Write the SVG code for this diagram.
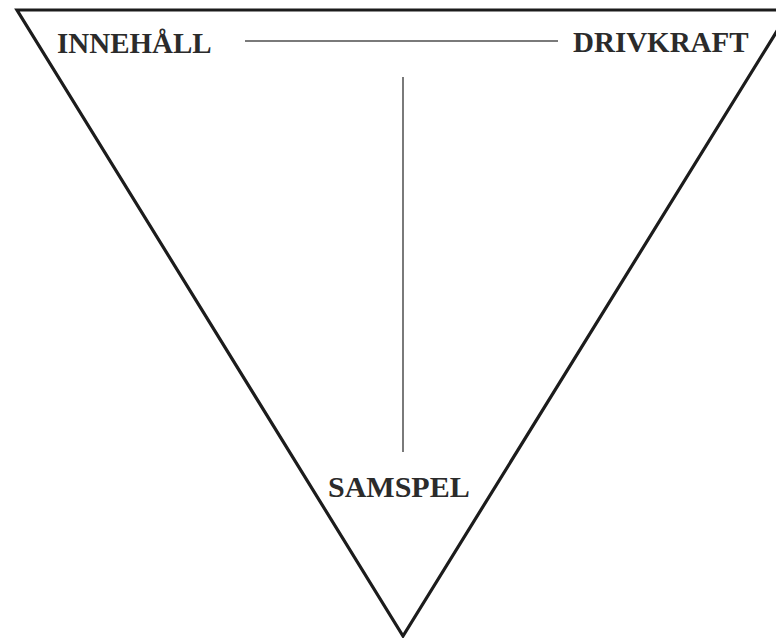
<svg xmlns="http://www.w3.org/2000/svg" width="776" height="638" viewBox="0 0 776 638">
<style>
.lbl{font-family:"Liberation Serif","Times New Roman",serif;font-weight:bold;font-size:29px;fill:#2b2b2b}
.edge{stroke:#1c1c1c;stroke-width:3.2;fill:none;stroke-linejoin:miter}
.conn{stroke:#7a7a7a;stroke-width:2;fill:none}
</style>
<rect width="776" height="638" fill="#ffffff"/>
<g id="triangle">
<polyline class="edge" points="790,10 17,10 403,636 790,10"/>
</g>
<g id="connectors">
<line class="conn" x1="245" y1="41" x2="558" y2="41"/>
<line class="conn" x1="403" y1="77" x2="403" y2="452"/>
</g>
<g id="node-innehall">
<text class="lbl" x="57" y="53">INNEHÅLL</text>
</g>
<g id="node-drivkraft">
<text class="lbl" x="573" y="52">DRIVKRAFT</text>
</g>
<g id="node-samspel">
<text class="lbl" x="328" y="497" style="font-size:30px">SAMSPEL</text>
</g>
</svg>
